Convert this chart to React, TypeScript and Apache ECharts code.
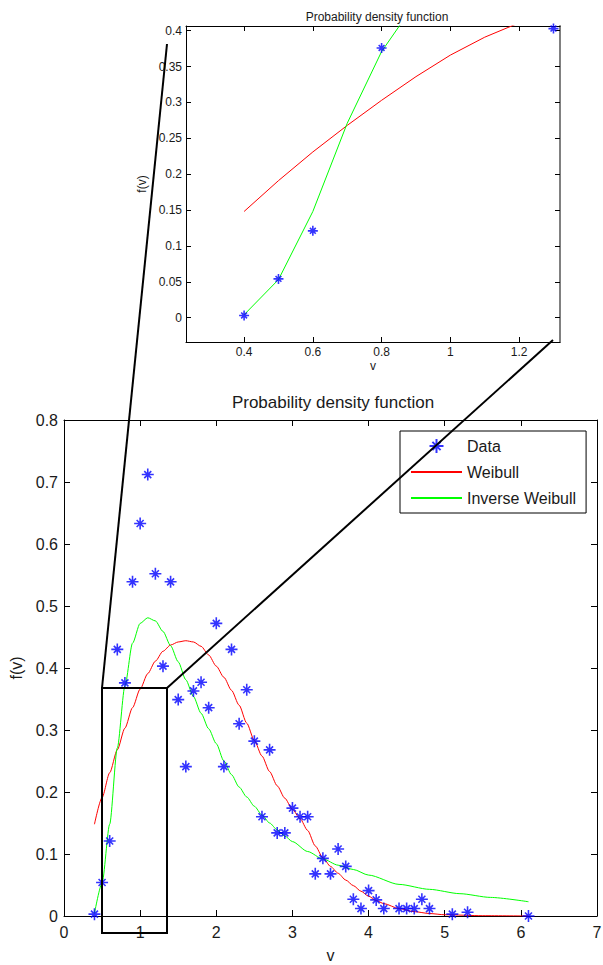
import React, { useEffect, useRef } from 'react';
import * as echarts from 'echarts';

// Observed data (v, f(v))
const dataV = [0.4, 0.5, 0.6, 0.7, 0.8, 0.9, 1.0, 1.1, 1.2, 1.3, 1.4, 1.5, 1.6, 1.7, 1.8, 1.9, 2.0, 2.1, 2.2, 2.3, 2.4, 2.5, 2.6, 2.7, 2.8, 2.9, 3.0, 3.1, 3.2, 3.3, 3.4, 3.5, 3.6, 3.7, 3.8, 3.9, 4.0, 4.1, 4.2, 4.4, 4.5, 4.6, 4.7, 4.8, 5.1, 5.3, 6.1];
const dataF = [0.003, 0.054, 0.121, 0.430, 0.376, 0.539, 0.633, 0.712, 0.552, 0.403, 0.539, 0.349, 0.241, 0.363, 0.377, 0.336, 0.472, 0.241, 0.430, 0.310, 0.365, 0.282, 0.160, 0.268, 0.134, 0.134, 0.174, 0.160, 0.160, 0.068, 0.093, 0.068, 0.108, 0.080, 0.027, 0.012, 0.041, 0.026, 0.012, 0.012, 0.012, 0.012, 0.027, 0.012, 0.003, 0.006, 0.0];

// Weibull fitted curve
const weibullV = [0.4, 0.5, 0.6, 0.7, 0.8, 0.9, 1.0, 1.1, 1.2, 1.3, 1.4, 1.5, 1.6, 1.7, 1.8, 1.9, 2.0, 2.1, 2.2, 2.3, 2.4, 2.5, 2.6, 2.7, 2.8, 2.9, 3.0, 3.1, 3.2, 3.3, 3.4, 3.5, 3.6, 3.7, 3.8, 3.9, 4.0, 4.1, 4.2, 4.4, 4.6, 4.8, 5.0, 5.5, 6.1];
const weibullF = [0.148, 0.191, 0.231, 0.268, 0.303, 0.336, 0.366, 0.391, 0.411, 0.427, 0.437, 0.442, 0.444, 0.442, 0.435, 0.421, 0.403, 0.385, 0.364, 0.340, 0.311, 0.283, 0.258, 0.233, 0.210, 0.190, 0.172, 0.157, 0.138, 0.113, 0.094, 0.080, 0.069, 0.058, 0.049, 0.040, 0.032, 0.025, 0.020, 0.012, 0.007, 0.004, 0.002, 0.0005, 0.0];

// Inverse Weibull fitted curve
const invV = [0.4, 0.5, 0.6, 0.7, 0.8, 0.9, 1.0, 1.1, 1.2, 1.3, 1.4, 1.5, 1.6, 1.7, 1.8, 1.9, 2.0, 2.1, 2.2, 2.3, 2.4, 2.5, 2.6, 2.7, 2.8, 2.9, 3.0, 3.2, 3.4, 3.6, 3.8, 4.0, 4.4, 4.8, 5.2, 5.6, 6.1];
const invF = [0.004, 0.053, 0.148, 0.271, 0.371, 0.440, 0.472, 0.481, 0.476, 0.459, 0.436, 0.410, 0.381, 0.354, 0.327, 0.302, 0.278, 0.250, 0.228, 0.208, 0.192, 0.177, 0.163, 0.150, 0.139, 0.129, 0.120, 0.104, 0.092, 0.082, 0.075, 0.066, 0.051, 0.043, 0.036, 0.030, 0.023];

// Tick values
const insetXTicks = [0.4, 0.6, 0.8, 1, 1.2];
const insetYTicks = [0, 0.05, 0.1, 0.15, 0.2, 0.25, 0.3, 0.35, 0.4];

const seriesNames = ['Data', 'Weibull', 'Inverse Weibull'];
const titleText = 'Probability density function';

const FONT = "'Liberation Sans', Arial, Helvetica, sans-serif";
const TXT = '#1a1a1a';
const STAR = 'path://M0,-6L0,6M-6,0L6,0M-3.5,-3.5L3.5,3.5M-3.5,3.5L3.5,-3.5';

const zip = (a: number[], b: number[]) => a.map((v, i) => [v, b[i]]);

export default function App() {
  const ref = useRef<HTMLDivElement>(null);
  useEffect(() => {
    if (!ref.current) return;
    const chart = echarts.init(ref.current, null, { renderer: 'svg' });

    const lineAx = (c = '#000', w = 1) => ({ show: true, onZero: false, lineStyle: { color: c, width: w } });
    const tick = (len: number, extra: any = {}) => ({ show: true, inside: true, length: len, lineStyle: { color: '#000' }, ...extra });
    const mainX = (pos: string, labels: boolean) => ({
      gridIndex: 0, type: 'value', position: pos, min: 0, max: 7, interval: 1,
      axisLine: lineAx(),
      axisTick: tick(6),
      axisLabel: { show: labels, fontSize: 16, color: TXT, fontFamily: FONT, margin: 8 },
      splitLine: { show: false },
      ...(labels ? { name: 'v', nameLocation: 'middle', nameGap: 31, nameTextStyle: { fontSize: 16, color: TXT, fontFamily: FONT } } : {}),
    });
    const mainY = (pos: string, labels: boolean) => ({
      gridIndex: 0, type: 'value', position: pos, min: 0, max: 0.8, interval: 0.1,
      axisLine: lineAx(),
      axisTick: tick(6),
      axisLabel: { show: labels, fontSize: 16, color: TXT, fontFamily: FONT, margin: 6 },
      splitLine: { show: false },
      ...(labels ? { name: 'f(v)', nameLocation: 'middle', nameGap: 37, nameTextStyle: { fontSize: 16, color: TXT, fontFamily: FONT } } : {}),
    });
    const insetX = (pos: string, labels: boolean) => ({
      gridIndex: 1, type: 'value', position: pos, min: 0.231, max: 1.319,
      axisLine: lineAx(),
      axisTick: tick(5, { customValues: insetXTicks }),
      axisLabel: { show: labels, customValues: insetXTicks, fontSize: 12, color: TXT, fontFamily: FONT, margin: 4 },
      splitLine: { show: false },
      ...(labels ? { name: 'v', nameLocation: 'middle', nameGap: 18, nameTextStyle: { fontSize: 12, color: TXT, fontFamily: FONT } } : {}),
    });
    const insetY = (pos: string, labels: boolean) => ({
      gridIndex: 1, type: 'value', position: pos, min: -0.034, max: 0.4066,
      axisLine: labels ? lineAx() : lineAx('#808080', 2),
      axisTick: tick(5, { customValues: insetYTicks }),
      axisLabel: { show: labels, customValues: insetYTicks, fontSize: 12, color: TXT, fontFamily: FONT, margin: 4 },
      splitLine: { show: false },
      ...(labels ? { name: 'f(v)', nameLocation: 'middle', nameGap: 28, nameTextStyle: { fontSize: 12, color: TXT, fontFamily: FONT } } : {}),
    });

    const scatter = (xi: number, size: number) => ({
      name: seriesNames[0], type: 'scatter', xAxisIndex: xi, yAxisIndex: xi,
      data: zip(dataV, dataF), symbol: STAR, symbolSize: size, clip: true,
      itemStyle: { color: '#0000ff', borderColor: '#0000ff', borderWidth: 1.6 },
      z: 5,
    });
    const curve = (name: string, xs: number[], ys: number[], color: string, xi: number, smooth: any) => ({
      name, type: 'line', xAxisIndex: xi, yAxisIndex: xi,
      data: zip(xs, ys), showSymbol: false, symbol: 'none', smooth, smoothMonotone: 'x', clip: true,
      lineStyle: { color, width: 1 }, itemStyle: { color },
      z: 3,
    });
    const hiddenSym = { color: 'rgba(0,0,0,0)', borderColor: 'rgba(0,0,0,0)', borderWidth: 0 };

    const option: any = {
      animation: false,
      backgroundColor: '#fff',
      title: [
        { text: titleText, left: 328, top: 389, textAlign: 'center', textStyle: { fontSize: 17, fontWeight: 'normal', color: TXT, fontFamily: FONT } },
        { text: titleText, left: 372, top: 6, textAlign: 'center', textStyle: { fontSize: 12, fontWeight: 'normal', color: TXT, fontFamily: FONT } },
      ],
      grid: [
        { left: 64, top: 420, width: 533, height: 496, outerBoundsMode: 'none' },
        { left: 186, top: 26, width: 374, height: 316, outerBoundsMode: 'none' },
      ],
      xAxis: [mainX('bottom', true), mainX('top', false), insetX('bottom', true), insetX('top', false)],
      yAxis: [mainY('left', true), mainY('right', false), insetY('left', true), insetY('right', false)],
      legend: {
        data: [
          { name: seriesNames[0] },
          { name: seriesNames[1], itemStyle: hiddenSym },
          { name: seriesNames[2], itemStyle: hiddenSym },
        ],
        orient: 'vertical', left: 400, top: 431,
        padding: [7, 10, 7, 10], itemGap: 10, itemWidth: 51, itemHeight: 14,
        borderColor: '#000', borderWidth: 1, backgroundColor: '#fff',
        textStyle: { fontSize: 16, color: TXT, fontFamily: FONT },
        lineStyle: { width: 2 },
      },
      series: [
        curve(seriesNames[1], weibullV, weibullF, '#ff0000', 0, 0.25),
        curve(seriesNames[2], invV, invF, '#00ff00', 0, 0.25),
        scatter(0, 12),
        curve(seriesNames[1], weibullV, weibullF, '#ff0000', 2, false),
        curve(seriesNames[2], invV, invF, '#00ff00', 2, false),
        scatter(2, 10),
      ],
      graphic: [
        { type: 'rect', shape: { x: 102, y: 688, width: 65, height: 245 }, style: { fill: 'none', stroke: '#000', lineWidth: 2 }, z: 100 },
        { type: 'line', shape: { x1: 102, y1: 688, x2: 167, y2: 44 }, style: { stroke: '#000', lineWidth: 2 }, z: 100 },
        { type: 'line', shape: { x1: 167, y1: 688, x2: 553, y2: 340 }, style: { stroke: '#000', lineWidth: 2 }, z: 100 },
      ],
    };
    chart.setOption(option);
    return () => chart.dispose();
  }, []);
  return <div ref={ref} style={{ position: 'absolute', left: 0, top: 0, width: 603, height: 965 }} />;
}
